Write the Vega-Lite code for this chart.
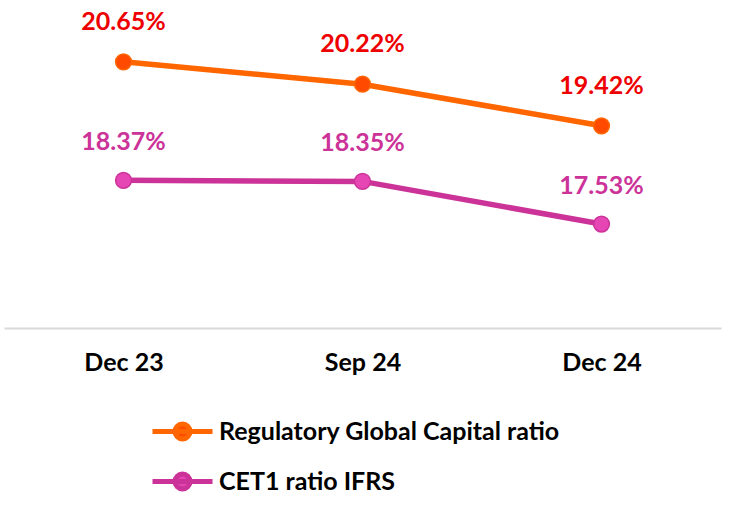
{
  "$schema": "https://vega.github.io/schema/vega-lite/v6.json",
  "width": 717,
  "height": 328,
  "padding": {"left": 4, "top": 0, "right": 17, "bottom": 0},
  "autosize": {"type": "pad"},
  "config": {"view": {"stroke": null}, "font": "Lato"},
  "data": {
    "values": [
      {"date": "Dec 23", "series": "Regulatory Global Capital ratio", "value": 0.2065},
      {"date": "Sep 24", "series": "Regulatory Global Capital ratio", "value": 0.2022},
      {"date": "Dec 24", "series": "Regulatory Global Capital ratio", "value": 0.1942},
      {"date": "Dec 23", "series": "CET1 ratio IFRS", "value": 0.1837},
      {"date": "Sep 24", "series": "CET1 ratio IFRS", "value": 0.1835},
      {"date": "Dec 24", "series": "CET1 ratio IFRS", "value": 0.1753}
    ]
  },
  "encoding": {
    "x": {
      "field": "date", "type": "ordinal", "sort": ["Dec 23", "Sep 24", "Dec 24"],
      "scale": {"type": "point", "padding": 0.5},
      "axis": {"title": null, "labelAngle": 0, "labelFontSize": 25, "labelFontWeight": "bold", "labelColor": "black", "ticks": false, "domainColor": "#D9D9D9", "domainWidth": 2, "labelPadding": 22, "grid": false}
    },
    "y": {
      "field": "value", "type": "quantitative",
      "scale": {"domain": [0.1553, 0.2184], "zero": false, "nice": false},
      "axis": null
    }
  },
  "layer": [
    {
      "mark": {"type": "line", "strokeWidth": 5.5},
      "encoding": {
        "color": {
          "field": "series", "type": "nominal",
          "scale": {"domain": ["Regulatory Global Capital ratio", "CET1 ratio IFRS"], "range": ["#FF6600", "#CC3399"]},
          "legend": {
            "orient": "none", "legendX": 146, "legendY": 399, "direction": "vertical", "title": null,
            "labelFontSize": 25, "labelFontWeight": "bold", "labelColor": "black", "labelLimit": 0,
            "symbolType": "M-1,0H1M0.25,0A0.25,0.25,0,1,1,-0.25,0A0.25,0.25,0,1,1,0.25,0Z",
            "symbolSize": 3600, "symbolStrokeWidth": 5, "labelOffset": 4, "rowPadding": -7,
            "encode": {"symbols": {"update": {"fill": {"scale": "fill", "field": "value"}}}}
          }
        }
      }
    },
    {
      "mark": {"type": "point", "filled": true, "size": 250, "strokeWidth": 1.5, "opacity": 1, "strokeOpacity": 1, "fillOpacity": 1},
      "encoding": {
        "fill": {
          "field": "series", "type": "nominal",
          "scale": {"domain": ["Regulatory Global Capital ratio", "CET1 ratio IFRS"], "range": ["#FF4A00", "#E645B4"]},
          "legend": null
        },
        "stroke": {
          "field": "series", "type": "nominal",
          "scale": {"domain": ["Regulatory Global Capital ratio", "CET1 ratio IFRS"], "range": ["#FF6600", "#CC3399"]},
          "legend": null
        }
      }
    },
    {
      "transform": [{"filter": "datum.series == 'Regulatory Global Capital ratio'"}],
      "mark": {"type": "text", "dy": -32, "baseline": "alphabetic", "fontSize": 25, "fontWeight": "bold", "color": "#EE0000"},
      "encoding": {"text": {"field": "value", "type": "quantitative", "format": ".2%"}}
    },
    {
      "transform": [{"filter": "datum.series == 'CET1 ratio IFRS'"}],
      "mark": {"type": "text", "dy": -30, "baseline": "alphabetic", "fontSize": 25, "fontWeight": "bold", "color": "#CC3399"},
      "encoding": {"text": {"field": "value", "type": "quantitative", "format": ".2%"}}
    }
  ]
}
